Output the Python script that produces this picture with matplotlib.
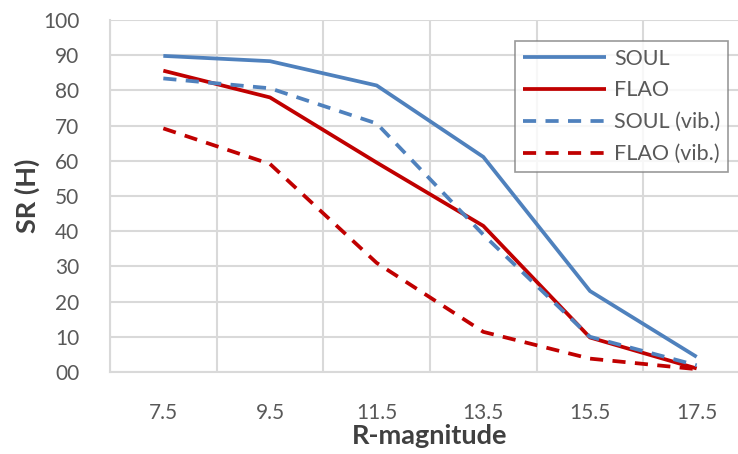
import numpy as np
import matplotlib.pyplot as plt

# R-magnitude categories
mags = ['7.5', '9.5', '11.5', '13.5', '15.5', '17.5']

soul = [89.8, 88.3, 81.4, 61.1, 23.0, 4.3]
flao = [85.6, 78.0, 59.5, 41.5, 9.8, 1.0]
soul_vib = [83.4, 80.6, 70.6, 39.0, 10.0, 1.9]
flao_vib = [69.2, 59.1, 31.0, 11.4, 3.8, 0.8]

yticks = [0, 10, 20, 30, 40, 50, 60, 70, 80, 90, 100]
ylabels = ['00'] + [str(v) for v in yticks[1:]]

blue = '#4F81BD'
red = '#C00000'
grid = '#D9D9D9'
txt = '#595959'

plt.rcParams['font.family'] = ['Lato', 'DejaVu Sans']

fig = plt.figure(figsize=(7.38, 4.54), dpi=100)
# plot area runs past the right edge of the picture (as in the reference)
ax = fig.add_axes([110 / 738, 82 / 454, 640 / 738, 352 / 454])

x = np.arange(len(mags))
ax.plot(x, soul, color=blue, lw=2.7, label='SOUL', solid_capstyle='butt')
ax.plot(x, flao, color=red, lw=2.7, label='FLAO', solid_capstyle='butt')
ax.plot(x, soul_vib, color=blue, lw=2.7, ls=(0, (3.5, 2.5)), label='SOUL (vib.)')
ax.plot(x, flao_vib, color=red, lw=2.7, ls=(0, (3.5, 2.5)), label='FLAO (vib.)')

ax.set_xlim(-0.5, len(mags) - 0.5)
ax.set_ylim(0, 100)
ax.set_xticks(x)
ax.set_xticklabels(mags)
ax.set_xticks(np.arange(-0.5, len(mags), 1.0), minor=True)
ax.set_yticks(yticks)
ax.set_yticklabels(ylabels)

ax.grid(True, which='minor', axis='x', color=grid, lw=1.5)
ax.grid(True, which='major', axis='y', color=grid, lw=1.5)
ax.set_axisbelow(True)
for s in ['top', 'right']:
    ax.spines[s].set_visible(False)
for s in ['left', 'bottom']:
    ax.spines[s].set_color(grid)
    ax.spines[s].set_linewidth(1.5)

ax.tick_params(axis='both', which='both', length=0, labelsize=15, colors=txt)
ax.tick_params(axis='x', pad=22)
ax.tick_params(axis='y', pad=22)

ax.set_xlabel('R-magnitude', fontsize=19.5, fontweight='bold', color='#404040', labelpad=1)
ax.set_ylabel('SR (H)', fontsize=19.5, fontweight='bold', color='#404040', labelpad=2)

leg = fig.legend(loc='upper left', bbox_to_anchor=(515 / 738, 1 - 41 / 454),
                 fontsize=15.5, frameon=True, fancybox=False, handlelength=3.9,
                 borderpad=0.35, labelspacing=0.55, handletextpad=0.35,
                 borderaxespad=0)
leg.get_frame().set_edgecolor('#808080')
leg.get_frame().set_linewidth(1.2)
for t in leg.get_texts():
    t.set_color(txt)

fig.savefig('out.png', dpi=100)
